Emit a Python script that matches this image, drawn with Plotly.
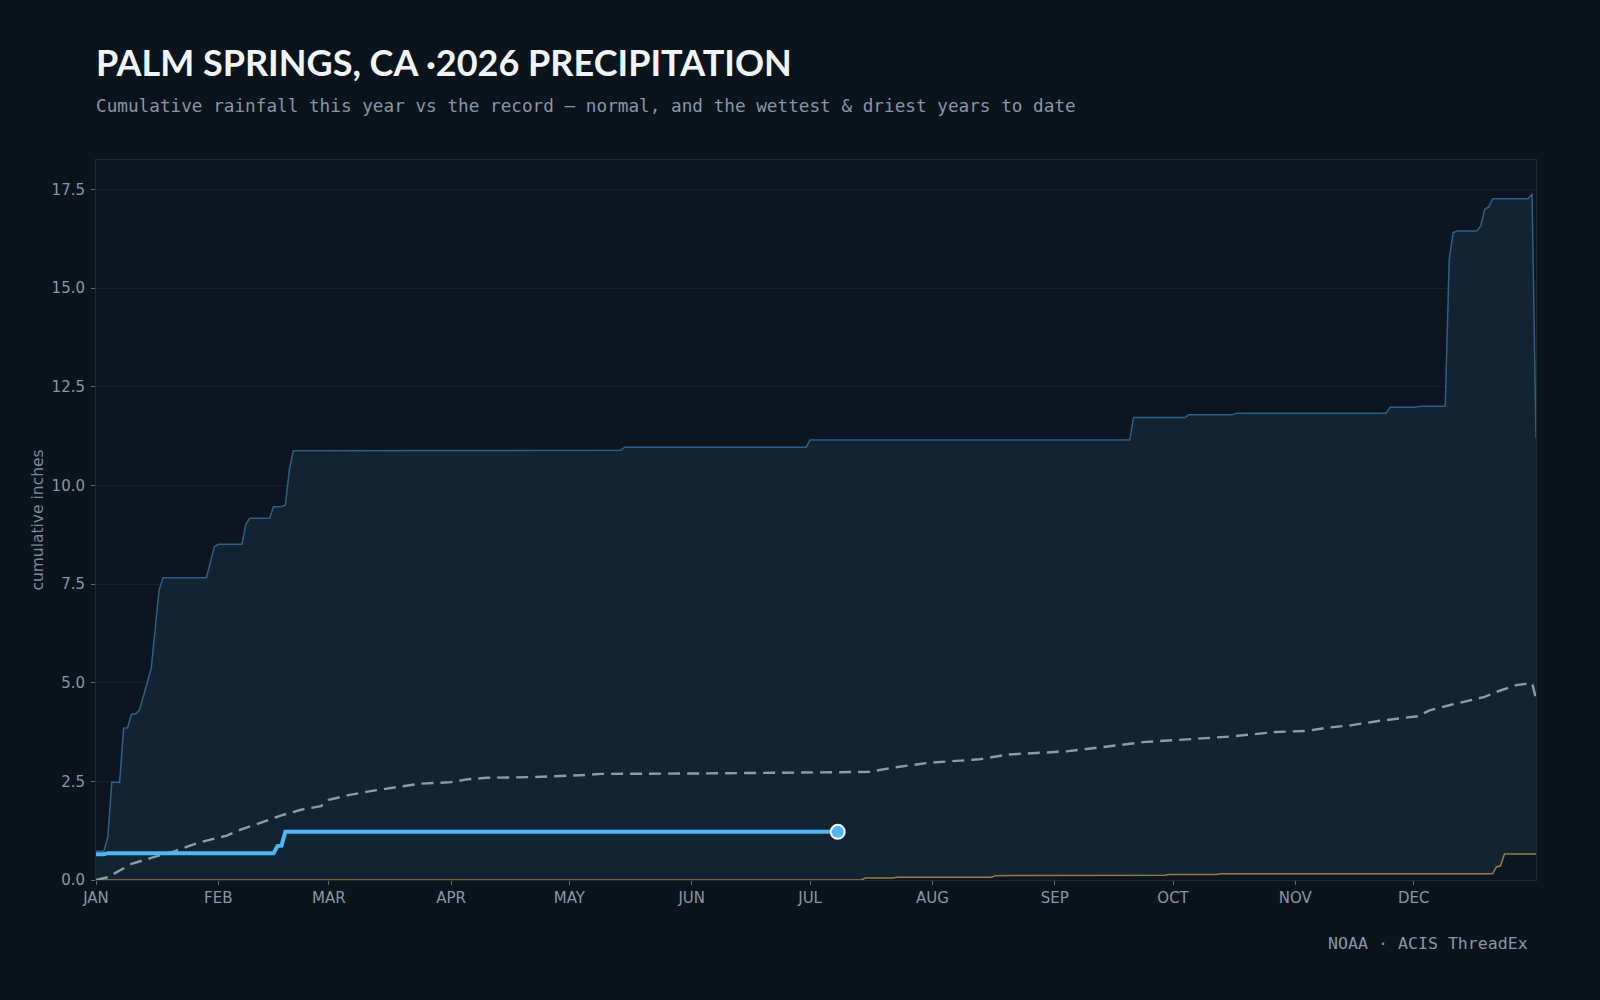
import pandas as pd
import plotly.graph_objects as go

YEAR_START = "2026-01-01"

month_ticks = ["2026-01-01", "2026-02-01", "2026-03-01", "2026-04-01", "2026-05-01", "2026-06-01",
               "2026-07-01", "2026-08-01", "2026-09-01", "2026-10-01", "2026-11-01", "2026-12-01"]
month_labels = ["JAN", "FEB", "MAR", "APR", "MAY", "JUN", "JUL", "AUG", "SEP", "OCT", "NOV", "DEC"]

# day-of-year offsets (0 = Jan 1) and cumulative inches
wet_day = [0, 2, 3, 4, 6, 7, 8, 9, 10, 11, 12, 14, 16, 17, 28, 30, 31, 37, 38, 39, 44, 45, 47, 48, 49, 50,
           133, 134, 180, 181, 262, 263, 276, 277, 288, 289, 327, 328, 334, 336, 342, 343, 344, 345,
           350, 351, 352, 353, 354, 363, 364, 365]
wet_val = [0.73, 0.73, 1.09, 2.48, 2.48, 3.85, 3.86, 4.20, 4.21, 4.30, 4.65, 5.36, 7.35, 7.66, 7.66, 8.45,
           8.51, 8.51, 9.02, 9.17, 9.17, 9.46, 9.47, 9.50, 10.39, 10.88,
           10.89, 10.97, 10.97, 11.15, 11.15, 11.72, 11.72, 11.79, 11.79, 11.83, 11.83, 11.98, 11.98, 12.01,
           12.01, 15.72, 16.41, 16.45, 16.45, 16.58, 17.00, 17.06, 17.27, 17.27, 17.39, 11.19]

normal_day = [0, 1, 3, 6, 9, 14, 20, 24, 28, 33, 37, 42, 47, 52, 57, 59, 64, 70, 77, 82, 90, 94, 99, 111,
              124, 128, 153, 162, 178, 196, 202, 211, 224, 231, 246, 255, 259, 266, 279, 288, 299, 307,
              312, 318, 325, 335, 338, 341, 343, 352, 355, 360, 364, 365]
normal_val = [0.00, 0.03, 0.07, 0.24, 0.41, 0.56, 0.73, 0.88, 1.00, 1.12, 1.29, 1.46, 1.64, 1.78, 1.87, 2.03,
              2.15, 2.26, 2.36, 2.44, 2.48, 2.55, 2.59, 2.61, 2.66, 2.69, 2.70, 2.71, 2.71, 2.74, 2.85, 2.97,
              3.06, 3.18, 3.26, 3.36, 3.41, 3.50, 3.58, 3.64, 3.75, 3.78, 3.86, 3.92, 4.03, 4.15, 4.30, 4.38,
              4.43, 4.64, 4.77, 4.94, 4.99, 4.60]

dry_day = [0, 194, 195, 202, 203, 227, 228, 243, 244, 271, 272, 284, 285, 354, 355, 356, 357, 365]
dry_val = [0.00, 0.00, 0.05, 0.05, 0.07, 0.07, 0.11, 0.11, 0.12, 0.12, 0.14, 0.14, 0.16, 0.16, 0.33, 0.36,
           0.66, 0.66]

this_day = [0, 2, 3, 45, 46, 47, 48, 188]
this_val = [0.65, 0.65, 0.68, 0.68, 0.86, 0.87, 1.22, 1.22]


def to_dates(days):
    base = pd.Timestamp(YEAR_START)
    return [base + pd.Timedelta(days=d) for d in days]


BG = "#0b141d"
PLOT_BG = "#0c1620"
TICK_C = "#8796a8"
GRID_C = "#132130"
AXIS_C = "#1b2d3d"

fig = go.Figure()

fig.add_trace(go.Scatter(x=to_dates(dry_day), y=dry_val, mode="lines",
                         line=dict(color="#9a7a44", width=1.5), hoverinfo="skip"))
fig.add_trace(go.Scatter(x=to_dates(wet_day), y=wet_val, mode="lines", fill="tonexty",
                         fillcolor="#122332", line=dict(color="#2e5f88", width=1.5), hoverinfo="skip"))
fig.add_trace(go.Scatter(x=to_dates(normal_day), y=normal_val, mode="lines",
                         line=dict(color="#8c9cab", width=2.4, dash="12px,7px"), hoverinfo="skip"))
fig.add_trace(go.Scatter(x=to_dates(this_day), y=this_val, mode="lines",
                         line=dict(color="#4db8f5", width=4), hoverinfo="skip"))
fig.add_trace(go.Scatter(x=to_dates(this_day[-1:]), y=this_val[-1:], mode="markers",
                         marker=dict(color="#4db8f5", size=14, line=dict(color="#ffffff", width=2)),
                         hoverinfo="skip"))

fig.update_layout(
    width=1600, height=1000,
    paper_bgcolor=BG, plot_bgcolor=PLOT_BG,
    margin=dict(l=96, r=64, t=160, b=120),
    showlegend=False,
    font=dict(family="DejaVu Sans", color=TICK_C, size=15),
    title=dict(text="<b>PALM SPRINGS, CA ·2026 PRECIPITATION</b>", xref="container", yref="container",
               x=96 / 1600, xanchor="left", y=1 - 63 / 1000, yanchor="middle",
               font=dict(family="Lato", size=36, color="#f2f5f8")),
    annotations=[
        dict(text="Cumulative rainfall this year vs the record — normal, and the wettest &amp; driest years to date",
             xref="paper", yref="paper", x=0, xshift=-2, y=(880 - 106) / 720, xanchor="left", yanchor="middle",
             showarrow=False, font=dict(family="DejaVu Sans Mono", size=17.7, color="#8796a8")),
        dict(text="NOAA · ACIS ThreadEx", xref="paper", yref="paper", x=(1530 - 96) / 1440,
             y=(880 - 944) / 720, xanchor="right", yanchor="middle", showarrow=False,
             font=dict(family="DejaVu Sans Mono", size=16.6, color="#8796a8")),
    ],
)

fig.update_xaxes(range=[pd.Timestamp(YEAR_START), pd.Timestamp(YEAR_START) + pd.Timedelta(days=365)],
                 tickvals=month_ticks, ticktext=month_labels, ticks="outside", ticklen=4, tickcolor="#5a6a7a",
                 showgrid=False, showline=True, linecolor=AXIS_C, mirror=True, zeroline=False,
                 tickfont=dict(size=15, color=TICK_C))
fig.update_yaxes(range=[0, 18.25], tickvals=[0, 2.5, 5, 7.5, 10, 12.5, 15, 17.5],
                 ticktext=["0.0", "2.5", "5.0", "7.5", "10.0", "12.5", "15.0", "17.5"],
                 ticks="outside", ticklen=4, tickcolor="#5a6a7a", ticklabelstandoff=3,
                 showgrid=True, gridcolor=GRID_C, gridwidth=1, showline=True, linecolor=AXIS_C, mirror=True,
                 zeroline=False, tickfont=dict(size=15, color=TICK_C),
                 title=dict(text="cumulative inches", standoff=4, font=dict(size=15.5, color="#7b8a9c")))

fig.write_html("out.html")
